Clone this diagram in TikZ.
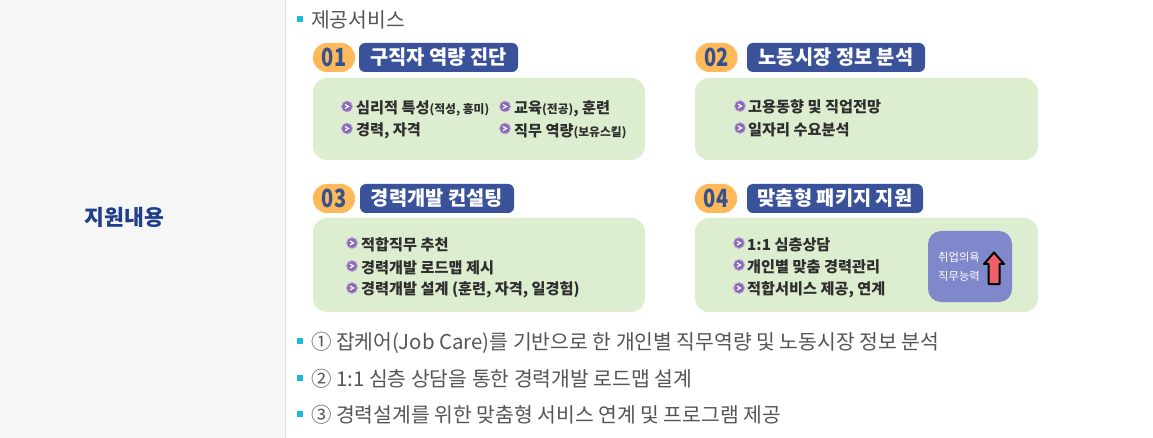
\documentclass[tikz,border=0pt]{standalone}
\usepackage{fontspec}
\usepackage{graphicx}
\setmainfont{Noto Sans CJK KR}
\definecolor{leftbg}{HTML}{F6F6F6}
\definecolor{rulecol}{HTML}{E2E2E2}
\definecolor{headcol}{HTML}{1F3F8C}
\definecolor{bodycol}{HTML}{555555}
\definecolor{sqcol}{HTML}{1DB8E0}
\definecolor{orangecol}{HTML}{FDB95A}
\definecolor{numcol}{HTML}{35528F}
\definecolor{bluecol}{HTML}{3A5299}
\definecolor{greencol}{HTML}{DDEDCF}
\definecolor{inktext}{HTML}{2E2E2E}
\definecolor{dotcol}{HTML}{8A68B8}
\definecolor{boostcol}{HTML}{8088CC}
\definecolor{arrowcol}{HTML}{F0606A}
\tikzset{
  x=1pt,y=-1pt,
  square/.style={fill=sqcol,draw=none,minimum size=5.5pt,inner sep=0,outer sep=0},
  bodytext/.style={anchor=west,inner sep=0,text=bodycol,font=\fontsize{20.4}{20}\selectfont},
  numpill/.style={fill=orangecol,draw=none,rounded corners=14pt,inner sep=0,minimum height=29pt,minimum width=42pt,text=numcol,font=\fontsize{25}{25}\selectfont\bfseries},
  titlepill/.style={fill=bluecol,draw=none,rounded corners=6pt,inner sep=0,minimum height=29pt,text=white,font=\fontsize{19.8}{20}\selectfont\bfseries},
  panel/.style={fill=greencol,draw=none,rounded corners=14pt},
  item/.style={anchor=west,inner sep=0,text=inktext,font=\fontsize{15.2}{15}\selectfont\bfseries},
  dot/.style={circle,fill=dotcol,draw=dotcol!55,line width=0.8pt,minimum size=11pt,inner sep=0,path picture={
    \draw[white,line width=1.2pt] ([xshift=-2pt,yshift=2pt]path picture bounding box.center) -- ([xshift=1.5pt]path picture bounding box.center) -- ([xshift=-2pt,yshift=-2pt]path picture bounding box.center);}},
}
\newcommand{\smalltxt}[1]{{\fontsize{11.8}{10}\selectfont #1}}
\newcommand{\numtxt}[1]{\scalebox{0.8}[1]{#1}}
\begin{document}
\begin{tikzpicture}
\useasboundingbox (0,0) rectangle (1153,438);
\fill[white] (0,0) rectangle (1153,438);
\fill[leftbg] (0,0) rectangle (285,438);
\draw[rulecol,line width=1pt] (285.5,0) -- (285.5,438);
\node[anchor=center,inner sep=0,text=headcol,font=\fontsize{21.6}{20}\selectfont\bfseries] (head) at (124.5,217.5) {지원내용};

\node[square] (s0) at (300,19) {};
\node[bodytext] (t0) at (311,20) {제공서비스};

% panels
\path[panel] (313,78) rectangle (645,160);
\path[panel] (695,78) rectangle (1038,160);
\path[panel] (313,218) rectangle (645,312);
\path[panel] (695,218) rectangle (1038,312);

% headers
\node[numpill] (n1) at (334,57.5) {\numtxt{01}};
\node[titlepill,minimum width=159pt] (h1) at (438.5,57.5) {구직자 역량 진단};
\node[numpill] (n2) at (716.5,57.5) {\numtxt{02}};
\node[titlepill,minimum width=178pt] (h2) at (836,57.5) {노동시장 정보 분석};
\node[numpill] (n3) at (334,198.5) {\numtxt{03}};
\node[titlepill,minimum width=154pt] (h3) at (437,198.5) {경력개발 컨설팅};
\node[numpill] (n4) at (716,198.5) {\numtxt{04}};
\node[titlepill,minimum width=176pt] (h4) at (835,198.5) {맞춤형 패키지 지원};

% panel 1
\node[dot] (d11) at (347,106.5) {};
\node[item] (i11) at (356,108.5) {심리적 특성\smalltxt{(적성, 흥미)}};
\node[dot] (d12) at (505,106.5) {};
\node[item] (i12) at (514,108.5) {교육\smalltxt{(전공)}, 훈련};
\node[dot] (d13) at (347,128.5) {};
\node[item] (i13) at (356,130.5) {경력, 자격};
\node[dot] (d14) at (505,128.5) {};
\node[item] (i14) at (514,131) {직무 역량\smalltxt{(보유스킬)}};
% panel 2
\node[dot] (d21) at (740,106) {};
\node[item] (i21) at (748,107) {고용동향 및 직업전망};
\node[dot] (d22) at (740,128) {};
\node[item] (i22) at (748,130) {일자리 수요분석};
% panel 3
\node[dot] (d31) at (352,243) {};
\node[item] (i31) at (361,245) {적합직무 추천};
\node[dot] (d32) at (352,266) {};
\node[item] (i32) at (361,267.5) {경력개발 로드맵 제시};
\node[dot] (d33) at (352,288) {};
\node[item] (i33) at (361,290) {경력개발 설계 (훈련, 자격, 일경험)};
% panel 4
\node[dot] (d41) at (739,243) {};
\node[item] (i41) at (747,245) {1:1 심층상담};
\node[dot] (d42) at (739,265) {};
\node[item] (i42) at (747,267) {개인별 맞춤 경력관리};
\node[dot] (d43) at (739,288) {};
\node[item] (i43) at (747,290) {적합서비스 제공, 연계};
% boost box
\path[fill=boostcol,rounded corners=13pt] (928,231) rectangle (1012,302);
\node[inner sep=0,text=white,font=\fontsize{11.3}{10}\selectfont] (b1) at (959,257) {취업의욕};
\node[inner sep=0,text=white,font=\fontsize{11.3}{10}\selectfont] (b2) at (959,276) {직무능력};
\path[fill=arrowcol,draw=black,line width=2pt,line join=round] (994,252.5) -- (1004,264) -- (999.5,264) -- (999.5,284) -- (988.5,284) -- (988.5,264) -- (984,264) -- cycle;

% bottom lines
\node[square] (s1) at (300,341) {};
\node[bodytext] (t1) at (311,342.5) {① 잡케어(Job Care)를 기반으로 한 개인별 직무역량 및 노동시장 정보 분석};
\node[square] (s2) at (300,378) {};
\node[bodytext] (t2) at (311,378.5) {② 1:1 심층 상담을 통한 경력개발 로드맵 설계};
\node[square] (s3) at (300,414) {};
\node[bodytext] (t3) at (311,415) {③ 경력설계를 위한 맞춤형 서비스 연계 및 프로그램 제공};
\end{tikzpicture}
\end{document}
